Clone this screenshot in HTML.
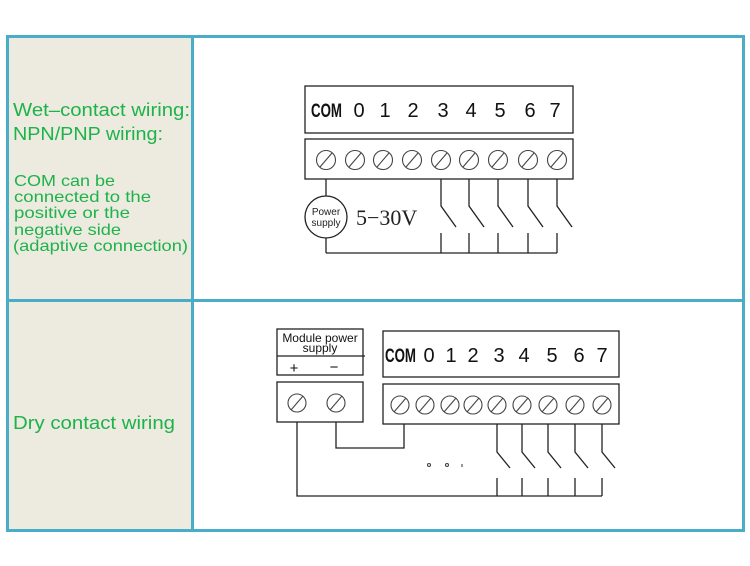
<!DOCTYPE html>
<html><head><style>
html,body{margin:0;padding:0;background:#fff;}
svg{display:block}
</style></head><body>
<svg width="750" height="566" viewBox="0 0 750 566" xmlns="http://www.w3.org/2000/svg" font-family="Liberation Sans, sans-serif">
<rect x="0" y="0" width="750" height="566" fill="#fff"/>
<rect x="8" y="37" width="184.5" height="493" fill="#edeae0"/>
<g stroke="#4aadc8" stroke-width="3" fill="none">
<rect x="7.5" y="36.5" width="736" height="494"/>
<line x1="192.5" y1="36" x2="192.5" y2="531"/>
<line x1="7" y1="300.5" x2="744" y2="300.5"/>
</g>
<g fill="#1db34a">
<text x="13" y="116" font-size="18" textLength="177" lengthAdjust="spacingAndGlyphs">Wet‒contact wiring:</text>
<text x="13" y="140" font-size="18" textLength="150" lengthAdjust="spacingAndGlyphs">NPN/PNP wiring:</text>
<text x="14" y="186" font-size="16" textLength="101" lengthAdjust="spacingAndGlyphs">COM can be</text>
<text x="14" y="202" font-size="16" textLength="137" lengthAdjust="spacingAndGlyphs">connected to the</text>
<text x="14" y="218" font-size="16" textLength="116" lengthAdjust="spacingAndGlyphs">positive or the</text>
<text x="14" y="235" font-size="16" textLength="107" lengthAdjust="spacingAndGlyphs">negative side</text>
<text x="13" y="251" font-size="16" textLength="175" lengthAdjust="spacingAndGlyphs">(adaptive connection)</text>
<text x="13" y="429" font-size="18" textLength="162" lengthAdjust="spacingAndGlyphs">Dry contact wiring</text>
</g>
<!-- Top diagram -->
<g stroke="#222" stroke-width="1.3" fill="none">
<rect x="305" y="86" width="268" height="47"/>
<rect x="305" y="139" width="268" height="40"/>
<line x1="326" y1="179" x2="326" y2="196"/>
<circle cx="326" cy="217" r="21"/>
<line x1="326" y1="238" x2="326" y2="253"/>
<line x1="326" y1="253" x2="557" y2="253"/>
</g>
<g stroke="#444" stroke-width="1.1" fill="none">
<circle cx="326" cy="160" r="9.5"/><line x1="320" y1="167" x2="332" y2="153"/>
<circle cx="355" cy="160" r="9.5"/><line x1="349" y1="167" x2="361" y2="153"/>
<circle cx="383" cy="160" r="9.5"/><line x1="377" y1="167" x2="389" y2="153"/>
<circle cx="412" cy="160" r="9.5"/><line x1="406" y1="167" x2="418" y2="153"/>
<circle cx="441" cy="160" r="9.5"/><line x1="435" y1="167" x2="447" y2="153"/>
<circle cx="469" cy="160" r="9.5"/><line x1="463" y1="167" x2="475" y2="153"/>
<circle cx="498" cy="160" r="9.5"/><line x1="492" y1="167" x2="504" y2="153"/>
<circle cx="528" cy="160" r="9.5"/><line x1="522" y1="167" x2="534" y2="153"/>
<circle cx="557" cy="160" r="9.5"/><line x1="551" y1="167" x2="563" y2="153"/>
</g>
<g stroke="#222" stroke-width="1.3" fill="none">
<path d="M441 179V206L456 227M441 233V253"/>
<path d="M469 179V206L484 227M469 233V253"/>
<path d="M498 179V206L513 227M498 233V253"/>
<path d="M528 179V206L543 227M528 233V253"/>
<path d="M557 179V206L572 227M557 233V253"/>
</g>
<g fill="#111" font-size="20" text-anchor="middle">
<text x="311" y="117" font-size="19" font-weight="bold" text-anchor="start" textLength="31" lengthAdjust="spacingAndGlyphs">COM</text>
<text x="359" y="117">0</text><text x="385" y="117">1</text><text x="413" y="117">2</text>
<text x="443" y="117">3</text><text x="471" y="117">4</text><text x="500" y="117">5</text>
<text x="530" y="117">6</text><text x="555" y="117">7</text>
</g>
<text x="326" y="215" font-size="10" text-anchor="middle" fill="#222">Power</text>
<text x="326" y="226" font-size="10" text-anchor="middle" fill="#222">supply</text>
<text x="356" y="225" font-size="22" font-family="Liberation Serif, serif" fill="#222">5−30V</text>
<!-- Bottom diagram -->
<g stroke="#222" stroke-width="1.3" fill="none">
<rect x="277" y="329" width="86" height="46"/>
<line x1="277" y1="356" x2="365" y2="356"/>
<rect x="277" y="382" width="86" height="40"/>
<rect x="383" y="331" width="236" height="46"/>
<rect x="383" y="384" width="236" height="40"/>
<path d="M297 422V496H602"/>
<path d="M336 422V448H404V424"/>
<path d="M497 424V452L510 468M497 478V496"/>
<path d="M522 424V452L535 468M522 478V496"/>
<path d="M548 424V452L561 468M548 478V496"/>
<path d="M575 424V452L588 468M575 478V496"/>
<path d="M602 424V452L615 468M602 478V496"/>
</g>
<g stroke="#444" stroke-width="1.1" fill="none">
<circle cx="297" cy="403" r="9"/><line x1="291" y1="410" x2="303" y2="396"/>
<circle cx="336" cy="403" r="9"/><line x1="330" y1="410" x2="342" y2="396"/>
<circle cx="400" cy="405" r="9"/><line x1="394" y1="412" x2="406" y2="398"/>
<circle cx="425" cy="405" r="9"/><line x1="419" y1="412" x2="431" y2="398"/>
<circle cx="450" cy="405" r="9"/><line x1="444" y1="412" x2="456" y2="398"/>
<circle cx="473" cy="405" r="9"/><line x1="467" y1="412" x2="479" y2="398"/>
<circle cx="497" cy="405" r="9"/><line x1="491" y1="412" x2="503" y2="398"/>
<circle cx="522" cy="405" r="9"/><line x1="516" y1="412" x2="528" y2="398"/>
<circle cx="548" cy="405" r="9"/><line x1="542" y1="412" x2="554" y2="398"/>
<circle cx="575" cy="405" r="9"/><line x1="569" y1="412" x2="581" y2="398"/>
<circle cx="602" cy="405" r="9"/><line x1="596" y1="412" x2="608" y2="398"/>
<circle cx="429" cy="465" r="1.5"/><circle cx="447" cy="465" r="1.5"/>
<line x1="462" y1="464" x2="462" y2="467"/>
</g>
<text x="320" y="342" font-size="12" text-anchor="middle" fill="#111">Module power</text>
<text x="320" y="352" font-size="12" text-anchor="middle" fill="#111">supply</text>
<text x="294" y="373" font-size="15" text-anchor="middle" fill="#111">+</text>
<text x="334" y="372" font-size="15" text-anchor="middle" fill="#111">−</text>
<g fill="#111" font-size="20" text-anchor="middle">
<text x="385" y="362" font-size="19" font-weight="bold" text-anchor="start" textLength="31" lengthAdjust="spacingAndGlyphs">COM</text>
<text x="429" y="362">0</text><text x="451" y="362">1</text><text x="473" y="362">2</text>
<text x="499" y="362">3</text><text x="524" y="362">4</text><text x="552" y="362">5</text>
<text x="579" y="362">6</text><text x="602" y="362">7</text>
</g>
</svg>
</body></html>
